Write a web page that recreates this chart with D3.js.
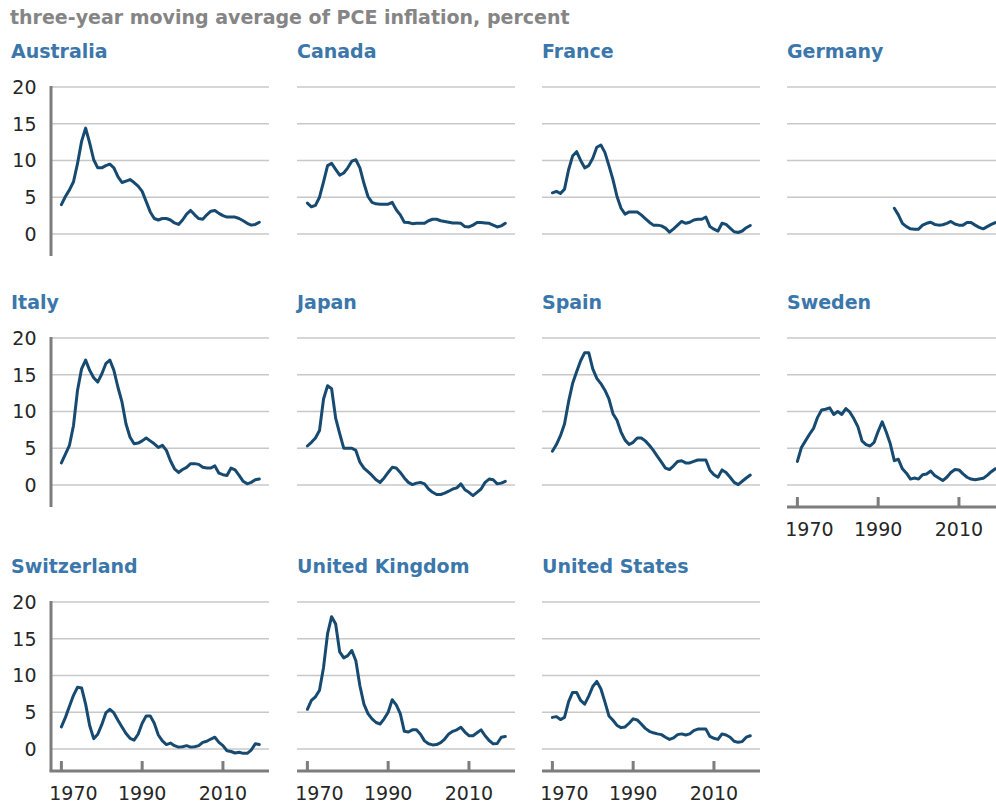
<!DOCTYPE html>
<html>
<head>
<meta charset="utf-8">
<script src="https://cdn.jsdelivr.net/npm/d3@7"></script>
<style>
    body { margin: 0; background: #fff; }
    svg { display: block; font-family: "DejaVu Sans", sans-serif; }
    .header { fill: #858585; font-weight: bold; font-size: 19px; }
    .title { fill: #3b77aa; font-weight: bold; font-size: 19px; }
    .grid line { stroke: #c8c8c8; stroke-width: 1.5; }
    .axis-line { stroke: #7d7d7d; stroke-width: 3; }
    .tick-label { fill: #262626; font-size: 19px; }
    .series { fill: none; stroke: #174a70; stroke-width: 3; stroke-linejoin: round; stroke-linecap: round; }
</style>
</head>
<body>
<div id="chart"></div>
<script>
// three-year moving average of PCE inflation, small multiples

const years = d3.range(1970, 2020);
const countries = ['Australia', 'Canada', 'France', 'Germany', 'Italy', 'Japan', 'Spain', 'Sweden',
    'Switzerland', 'United Kingdom', 'United States'];
const yTicks = [0, 5, 10, 15, 20];
const xTicks = [1970, 1990, 2010];

const australia = [4.0, 5.1, 6.0, 7.1, 9.6, 12.6, 14.4, 12.4, 10.1, 9.0, 9.0, 9.3, 9.5, 9.0, 7.8, 7.0, 7.2, 7.4, 7.0, 6.5,
    5.8, 4.4, 3.0, 2.1, 1.9, 2.1, 2.1, 1.9, 1.5, 1.3, 1.9, 2.7, 3.2, 2.6, 2.1, 2.0, 2.6, 3.1, 3.2, 2.8,
    2.5, 2.3, 2.3, 2.3, 2.1, 1.8, 1.45, 1.2, 1.3, 1.6];
const canada = [4.2, 3.7, 3.9, 5.0, 7.1, 9.3, 9.6, 8.8, 8.0, 8.3, 9.0, 9.9, 10.1, 9.0, 6.9, 5.1, 4.3, 4.1, 4.05, 4.05,
    4.05, 4.3, 3.3, 2.6, 1.6, 1.55, 1.4, 1.45, 1.45, 1.45, 1.8, 2.0, 2.0, 1.8, 1.7, 1.6, 1.5, 1.5, 1.45, 1.0,
    0.95, 1.2, 1.55, 1.55, 1.5, 1.45, 1.2, 0.95, 1.1, 1.45];
const france = [5.6, 5.8, 5.5, 6.1, 8.7, 10.6, 11.2, 10.0, 9.0, 9.3, 10.3, 11.8, 12.1, 11.1, 9.3, 7.4, 5.1, 3.5, 2.7, 3.0,
    3.0, 3.0, 2.6, 2.1, 1.6, 1.2, 1.2, 1.1, 0.8, 0.25, 0.7, 1.2, 1.7, 1.45, 1.6, 1.9, 2.0, 2.0, 2.3, 1.0,
    0.65, 0.4, 1.45, 1.3, 0.8, 0.3, 0.2, 0.4, 0.85, 1.15];
const germany = [null, null, null, null, null, null, null, null, null, null, null, null, null, null, null, null, null, null, null, null,
    null, null, null, null, 3.5, 2.6, 1.45, 1.0, 0.7, 0.65, 0.65, 1.2, 1.45, 1.6, 1.3, 1.2, 1.25, 1.45, 1.7, 1.35,
    1.2, 1.2, 1.55, 1.55, 1.2, 0.9, 0.7, 1.0, 1.3, 1.55];
const italy = [3.0, 4.2, 5.4, 8.1, 12.9, 15.8, 17.0, 15.6, 14.6, 14.0, 15.1, 16.5, 17.0, 15.6, 13.3, 11.3, 8.3, 6.5, 5.6, 5.7,
    6.0, 6.4, 6.0, 5.6, 5.1, 5.4, 4.7, 3.3, 2.2, 1.7, 2.1, 2.4, 2.9, 2.9, 2.8, 2.4, 2.3, 2.3, 2.6, 1.6,
    1.4, 1.3, 2.3, 2.05, 1.3, 0.5, 0.15, 0.35, 0.7, 0.8];
const japan = [5.3, 5.8, 6.4, 7.4, 11.7, 13.5, 13.1, 9.1, 7.0, 5.0, 5.0, 5.0, 4.7, 3.1, 2.3, 1.8, 1.3, 0.7, 0.35, 0.95,
    1.7, 2.4, 2.3, 1.7, 0.95, 0.35, 0.05, 0.25, 0.35, 0.15, -0.55, -1.0, -1.3, -1.3, -1.1, -0.85, -0.55, -0.4, 0.15, -0.65,
    -1.0, -1.45, -1.0, -0.55, 0.35, 0.8, 0.7, 0.15, 0.25, 0.5];
const spain = [4.6, 5.5, 6.7, 8.3, 11.3, 13.8, 15.4, 16.9, 18.0, 18.0, 15.8, 14.5, 13.8, 12.9, 11.7, 9.7, 8.8, 7.2, 6.1, 5.5,
    5.8, 6.4, 6.4, 6.0, 5.4, 4.7, 3.9, 3.1, 2.3, 2.1, 2.6, 3.2, 3.3, 3.0, 3.0, 3.2, 3.4, 3.4, 3.4, 2.0,
    1.4, 1.05, 2.05, 1.7, 1.05, 0.35, 0.05, 0.5, 0.95, 1.35];
const sweden = [3.2, 5.1, 6.0, 6.9, 7.7, 9.2, 10.2, 10.3, 10.5, 9.6, 10.0, 9.6, 10.4, 9.9, 9.0, 7.9, 6.0, 5.5, 5.3, 5.8,
    7.3, 8.6, 7.2, 5.6, 3.3, 3.5, 2.2, 1.6, 0.8, 0.95, 0.8, 1.4, 1.5, 1.9, 1.3, 0.95, 0.6, 1.05, 1.7, 2.1,
    2.05, 1.5, 1.05, 0.8, 0.7, 0.8, 0.9, 1.3, 1.8, 2.2];
const switzerland = [3.0, 4.3, 5.8, 7.3, 8.4, 8.3, 6.1, 3.2, 1.4, 2.0, 3.3, 4.9, 5.4, 4.9, 3.9, 3.0, 2.1, 1.45, 1.2, 2.0,
    3.5, 4.5, 4.5, 3.5, 1.9, 1.1, 0.6, 0.8, 0.45, 0.25, 0.3, 0.45, 0.25, 0.3, 0.45, 0.9, 1.05, 1.35, 1.6, 0.9,
    0.45, -0.25, -0.35, -0.55, -0.45, -0.6, -0.6, -0.15, 0.7, 0.6];
const unitedKingdom = [5.4, 6.6, 7.1, 8.0, 11.1, 15.7, 18.0, 17.0, 13.2, 12.4, 12.7, 13.4, 12.0, 8.6, 6.1, 4.8, 4.1, 3.6, 3.4, 4.1,
    5.0, 6.7, 6.0, 4.8, 2.4, 2.3, 2.6, 2.6, 2.0, 1.1, 0.7, 0.55, 0.6, 0.85, 1.35, 2.05, 2.4, 2.6, 2.95, 2.3,
    1.8, 1.8, 2.2, 2.6, 1.8, 1.15, 0.7, 0.75, 1.6, 1.7];
const unitedStates = [4.3, 4.4, 4.0, 4.3, 6.4, 7.7, 7.7, 6.6, 6.1, 7.2, 8.5, 9.2, 8.2, 6.4, 4.5, 3.9, 3.2, 2.9, 3.0, 3.5,
    4.1, 3.95, 3.4, 2.8, 2.4, 2.2, 2.05, 1.95, 1.6, 1.3, 1.5, 1.95, 2.05, 1.9, 2.05, 2.5, 2.7, 2.7, 2.7, 1.7,
    1.45, 1.3, 2.05, 1.9, 1.6, 1.05, 0.9, 1.0, 1.6, 1.8];

const seriesValues = [australia, canada, france, germany, italy, japan, spain, sweden,
    switzerland, unitedKingdom, unitedStates];

// 哪些面板画x轴（最下面一排 + Sweden）
const withXAxis = ['Sweden', 'Switzerland', 'United Kingdom', 'United States'];

(function () {
    'use strict';

    const width = 996, height = 804;
    const colLeft = [51, 297, 542, 787];
    const rowTop = [87, 338, 602];
    const plotW = 218, plotH = 169;

    const svg = d3.select('#chart').append('svg').attr('width', width).attr('height', height);

    svg.append('text').attr('class', 'header').attr('x', 10).attr('y', 24)
        .text('three-year moving average of PCE inflation, percent');

    const x = d3.scaleLinear().domain([1967.43, 2021.4]).range([0, plotW]);
    const y = d3.scaleLinear().domain([-3, 20]).range([plotH, 0]);

    const line = d3.line()
        .defined(function (d) { return d.value !== null; })
        .x(function (d) { return x(d.year); })
        .y(function (d) { return y(d.value); });

    countries.forEach(function (name, i) {
        const col = i % 4, row = Math.floor(i / 4);
        const g = svg.append('g').attr('transform', 'translate(' + colLeft[col] + ',' + (rowTop[row] - y(20)) + ')');

        // 标题
        g.append('text').attr('class', 'title')
            .attr('x', col === 0 ? 11 - colLeft[0] : 0).attr('y', -29.5)
            .text(name);

        // 网格
        g.append('g').attr('class', 'grid').selectAll('line').data(yTicks).join('line')
            .attr('x1', 0).attr('x2', plotW)
            .attr('y1', function (d) { return y(d); }).attr('y2', function (d) { return y(d); });

        // y轴只在第一列
        if (col === 0) {
            g.append('line').attr('class', 'axis-line')
                .attr('x1', 0).attr('x2', 0).attr('y1', y(20) - 1).attr('y2', plotH);
            g.append('g').selectAll('text').data(yTicks).join('text')
                .attr('class', 'tick-label')
                .attr('x', -14.5).attr('y', function (d) { return y(d); })
                .attr('dy', '0.36em').attr('text-anchor', 'end')
                .text(function (d) { return d; });
        }

        // x轴
        if (withXAxis.indexOf(name) >= 0) {
            g.append('line').attr('class', 'axis-line')
                .attr('x1', col === 0 ? -1.5 : 0).attr('x2', plotW).attr('y1', plotH).attr('y2', plotH);
            g.append('g').selectAll('line').data(xTicks).join('line')
                .attr('class', 'axis-line')
                .attr('x1', function (d) { return x(d); }).attr('x2', function (d) { return x(d); })
                .attr('y1', plotH - 10).attr('y2', plotH);
            g.append('g').selectAll('text').data(xTicks).join('text')
                .attr('class', 'tick-label')
                .attr('x', function (d, j) { return x(d) + (j === 0 ? 12 : 0); })
                .attr('y', plotH + 29).attr('text-anchor', 'middle')
                .text(function (d) { return d; });
        }

        const data = years.map(function (yr, j) {
            return { year: yr, value: seriesValues[i][j] };
        });

        g.append('path').datum(data).attr('class', 'series').attr('d', line);
    });
}());
</script>
</body>
</html>
